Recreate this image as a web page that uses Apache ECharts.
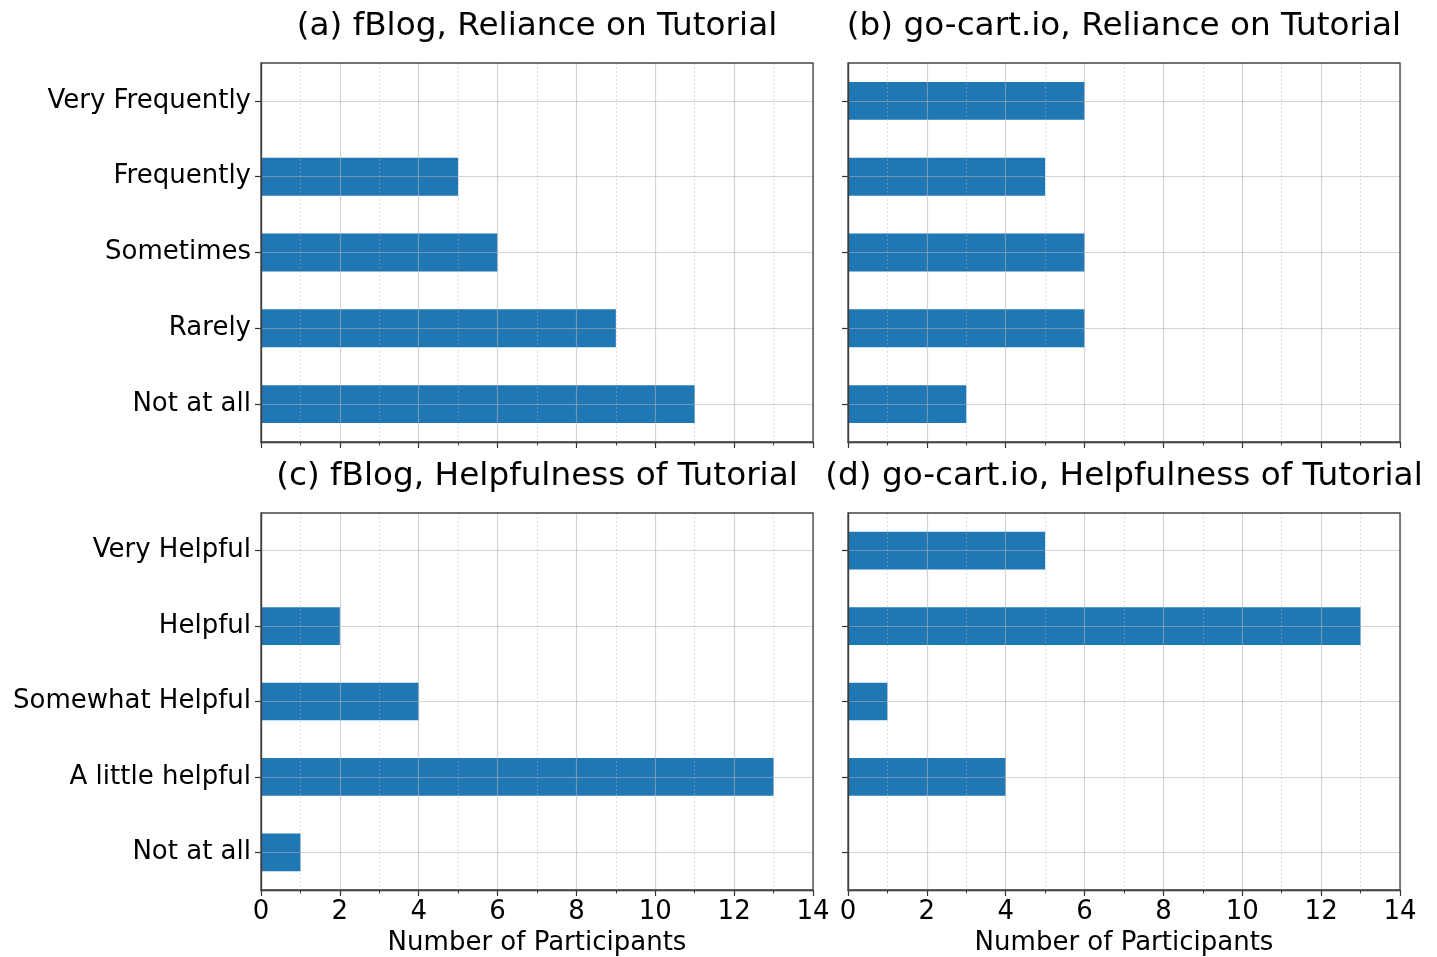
<!DOCTYPE html>
<html>
<head>
<meta charset="utf-8">
<script src="https://cdn.jsdelivr.net/npm/echarts@6/dist/echarts.min.js"></script>
<style>html,body{margin:0;padding:0;background:#fff}#c{width:1437px;height:957px}</style>
</head>
<body>
<div id="c"></div>
<script>
// ---- data ----
const relianceCats = ['Not at all', 'Rarely', 'Sometimes', 'Frequently', 'Very Frequently'];
const helpCats = ['Not at all', 'A little helpful', 'Somewhat Helpful', 'Helpful', 'Very Helpful'];
const fblogReliance = [11, 9, 6, 5, 0];
const gocartReliance = [3, 6, 6, 5, 6];
const fblogHelp = [1, 13, 4, 2, 0];
const gocartHelp = [0, 4, 1, 13, 5];
const titles = ['(a) fBlog, Reliance on Tutorial', '(b) go-cart.io, Reliance on Tutorial',
                '(c) fBlog, Helpfulness of Tutorial', '(d) go-cart.io, Helpfulness of Tutorial'];
const xLabel = 'Number of Participants';

const FONT = 'DejaVu Sans';
const GRIDC = 'rgba(176,176,176,0.55)';
const chart = echarts.init(document.getElementById('c'));
const panels = [
  {cats: relianceCats, vals: fblogReliance, left: 261, top: 63, h: 379, xl: false, yl: true},
  {cats: relianceCats, vals: gocartReliance, left: 848, top: 63, h: 379, xl: false, yl: false},
  {cats: helpCats, vals: fblogHelp, left: 261, top: 513, h: 379, xl: true, yl: true},
  {cats: helpCats, vals: gocartHelp, left: 848, top: 513, h: 379, xl: true, yl: false}
];
const W = 552;
const grids = [], xAxes = [], yAxes = [], overlayY = [], series = [], graphics = [];
panels.forEach((p, i) => {
  grids.push({left: p.left, top: p.top, width: W, height: p.h, show: true, borderColor: '#444', borderWidth: 1.3, backgroundColor: 'transparent', z: 6});
  xAxes.push({
    type: 'value', gridIndex: i, min: 0, max: 14, interval: 2, z: 5,
    axisLine: {show: true, lineStyle: {color: '#333', width: 1.3}},
    axisTick: {show: true, length: 6, inside: false, lineStyle: {color: '#333', width: 1.2}},
    minorTick: {show: true, splitNumber: 2, length: 3.5, lineStyle: {color: '#333', width: 1}},
    splitLine: {show: true, lineStyle: {color: GRIDC, width: 1.2}},
    minorSplitLine: {show: true, lineStyle: {color: GRIDC, width: 1, type: [1.5, 2.5]}},
    axisLabel: {show: p.xl, fontFamily: FONT, fontSize: 26, color: '#000', margin: 9},
    name: p.xl ? xLabel : '', nameLocation: 'middle', nameGap: 40,
    nameTextStyle: {fontFamily: FONT, fontSize: 26, color: '#000'}
  });
  yAxes.push({
    type: 'category', gridIndex: i, data: p.cats, z: 5,
    axisLine: {show: true, lineStyle: {color: '#333', width: 1.3}},
    axisTick: {show: true, length: 6, alignWithLabel: true, lineStyle: {color: '#333', width: 1.2}},
    splitLine: {show: false},
    axisLabel: {show: p.yl, fontFamily: FONT, fontSize: 26, color: '#000', margin: 10, interval: 0, padding: [4, 0, 0, 0]}
  });
  // overlay axis only to draw horizontal grid lines through category centres
  overlayY.push({
    type: 'value', gridIndex: i, min: 0, max: 5, interval: 1, z: 5, position: 'right',
    axisLine: {show: false}, axisTick: {show: false}, axisLabel: {show: false},
    splitLine: {show: false},
    minorTick: {show: false, splitNumber: 2},
    minorSplitLine: {show: true, lineStyle: {color: GRIDC, width: 1.2}}
  });
  series.push({
    type: 'bar', xAxisIndex: i, yAxisIndex: i, data: p.vals, barWidth: '50%',
    itemStyle: {color: '#1f77b4'}, z: 2, silent: true
  });
  graphics.push({
    type: 'text', x: p.left + W / 2, y: p.top - 36, z: 10,
    style: {text: titles[i], font: '32.7px "' + FONT + '"', fill: '#000', textAlign: 'center', textVerticalAlign: 'middle'}
  });
});
chart.setOption({
  animation: false,
  grid: grids, xAxis: xAxes, yAxis: yAxes.concat(overlayY), series: series,
  graphic: graphics
});
</script>
</body>
</html>
